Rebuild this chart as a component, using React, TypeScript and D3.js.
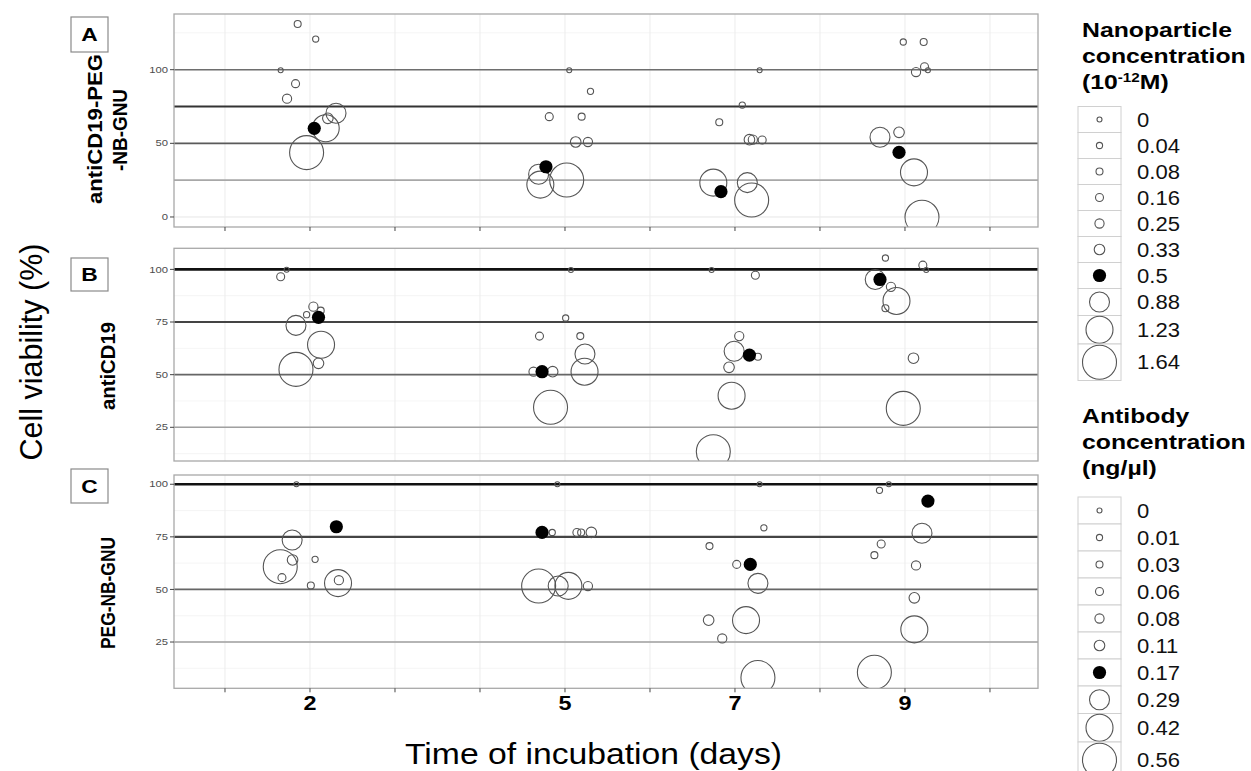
import { useEffect, useRef } from "react";
import * as d3 from "d3";

const W = 1251;
const H = 771;

// ── Data ─────────────────────────────────────────────────────────────────────
const nanoLevels = ["0", "0.04", "0.08", "0.16", "0.25", "0.33", "0.5", "0.88", "1.23", "1.64"];
const antibodyLevels = ["0", "0.01", "0.03", "0.06", "0.08", "0.11", "0.17", "0.29", "0.42", "0.56"];
const FILLED = 6; // the level drawn as a solid dot

const dayTicks = [1, 2, 3, 4, 5, 6, 7, 8, 9, 10];
const dayLabels = [2, 5, 7, 9];
const refValues = [100, 75, 50, 25];

// [day (jittered), cell viability %, concentration level index]
const pointsA: [number, number, number][] = [
  [1.855, 131, 2], [2.067, 120.8, 1], [1.655, 99.6, 0], [1.83, 90.5, 3], [1.73, 80.3, 4],
  [2.21, 67, 5], [2.306, 70.4, 7], [2.185, 60.2, 8], [1.96, 43.7, 9], [2.05, 60.2, 6],
  [5.05, 99.6, 0], [5.3, 85.3, 1], [5.196, 68.1, 2], [4.815, 68.1, 3], [5.27, 50.9, 4],
  [5.126, 50.9, 5], [4.69, 29, 7], [4.71, 22, 8], [5.02, 25.1, 9], [4.776, 34.1, 6],
  [7.29, 99.6, 0], [7.086, 76, 1], [6.815, 64.3, 2], [7.32, 52.3, 3], [7.21, 52.5, 4],
  [7.17, 52.5, 5], [7.145, 23.3, 7], [6.745, 23.3, 8], [7.196, 11.5, 9], [6.835, 17.2, 6],
  [9.27, 99.6, 0], [8.98, 118.8, 1], [9.22, 118.8, 2], [9.23, 102, 3], [9.13, 98.4, 4],
  [8.93, 57.5, 5], [8.706, 54.1, 7], [9.106, 30.3, 8], [9.2, -0.2, 9], [8.93, 43.9, 6],
];

const pointsB: [number, number, number][] = [
  [1.725, 99.8, 0], [1.96, 78.5, 1], [2.126, 80.4, 2], [1.655, 96.5, 3], [2.04, 82.3, 4],
  [2.1, 55.4, 5], [1.835, 73.4, 7], [2.13, 64.2, 8], [1.835, 52.5, 9], [2.1, 77.2, 6],
  [5.07, 99.7, 0], [5.008, 76.9, 1], [5.18, 68.3, 2], [4.7, 68.3, 3], [4.63, 51.4, 4],
  [4.855, 51.4, 5], [5.235, 59.8, 7], [5.23, 51.4, 8], [4.83, 34.5, 9], [4.73, 51.4, 6],
  [6.725, 99.7, 0], [7.27, 58.5, 2], [7.24, 97.2, 3], [7.05, 68.3, 4], [6.93, 53.5, 5],
  [6.99, 61.1, 7], [6.96, 40.0, 8], [6.745, 13.4, 9], [7.17, 59.3, 6],
  [9.25, 99.7, 0], [8.77, 105.4, 1], [8.77, 81.5, 2], [9.21, 102, 3], [8.835, 91.7, 4],
  [9.1, 57.8, 5], [8.65, 95.2, 7], [8.9, 85.0, 8], [8.98, 34.0, 9], [8.706, 95.2, 6],
];

const pointsC: [number, number, number][] = [
  [1.84, 100, 0], [2.06, 64.3, 1], [2.01, 51.9, 2], [1.67, 55.6, 3], [2.34, 54.4, 4],
  [1.795, 64.0, 5], [1.79, 73.5, 7], [2.33, 53.0, 8], [1.65, 60.8, 9], [2.31, 79.8, 6],
  [4.91, 100, 0], [4.85, 77.1, 1], [5.19, 77.1, 2], [5.14, 77.1, 3], [5.27, 51.6, 4],
  [5.31, 77.1, 5], [4.92, 51.6, 7], [5.04, 51.7, 8], [4.69, 51.6, 9], [4.73, 77.1, 6],
  [7.29, 100, 0], [7.34, 79.3, 1], [6.7, 70.6, 2], [7.02, 61.9, 3], [6.85, 26.7, 4],
  [6.69, 35.4, 5], [7.27, 52.9, 7], [7.13, 35.4, 8], [7.27, 8.1, 9], [7.18, 61.9, 6],
  [8.81, 100, 0], [8.7, 97.1, 1], [8.64, 66.3, 2], [8.72, 71.6, 3], [9.13, 61.4, 4],
  [9.11, 46.0, 5], [9.2, 76.7, 7], [9.11, 31.0, 8], [8.64, 10.6, 9], [9.27, 92.0, 6],
];

// ── Styling ──────────────────────────────────────────────────────────────────
const RADII = [2.5, 3.1, 3.5, 4, 4.6, 5.3, 6.6, 10, 13.5, 17];
const PX_L = 174;
const PX_R = 1038;

const refStyleA: [string, number][] = [["#6e6e6e", 1.4], ["#333333", 2.2], ["#5a5a5a", 1.6], ["#a8a8a8", 1.6]];
const refStyleBC: [string, number][] = [["#111111", 2.6], ["#444444", 2.1], ["#666666", 1.7], ["#a0a0a0", 1.5]];

const FONT = "'Liberation Sans', Arial, Helvetica, sans-serif";

const panels = [
  { id: "A", pts: pointsA, top: 14, bottom: 227, domain: [-6.8, 137.8], ticks: [0, 50, 100], minor: [25, 75, 125],
    refs: refStyleA, xTicks: true, box: [17, 35], labels: [["antiCD19-PEG", 102, 129, 150], ["-NB-GNU", 127, 130, 82]] },
  { id: "B", pts: pointsB, top: 248.3, bottom: 461, domain: [9, 110], ticks: [25, 50, 75, 100], minor: [12.5, 37.5, 62.5, 87.5],
    refs: refStyleBC, xTicks: false, box: [258, 33], labels: [["antiCD19", 115, 366, 88]] },
  { id: "C", pts: pointsC, top: 475, bottom: 688.3, domain: [3, 104.4], ticks: [25, 50, 75, 100], minor: [12.5, 37.5, 62.5, 87.5],
    refs: refStyleBC, xTicks: true, box: [469, 34], labels: [["PEG-NB-GNU", 115, 593, 112]] },
];

const legends = [
  { title: ["Nanoparticle", "concentration", null], levels: nanoLevels, titleY: 36.5, keyTop: 106.5, rowH: [26, 26, 26, 26, 26, 26, 26, 27, 28.5, 36.5] },
  { title: ["Antibody", "concentration", "(ng/µl)"], levels: antibodyLevels, titleY: 423, keyTop: 497, rowH: [27, 27, 27, 27, 27, 27, 27, 27.5, 28.5, 36.5] },
];

function stretch(sel: any, k: number) {
  sel.each(function (this: SVGTextElement) {
    const len = this.getComputedTextLength();
    d3.select(this).attr("textLength", len * k).attr("lengthAdjust", "spacingAndGlyphs");
  });
}

export default function App() {
  const ref = useRef<SVGSVGElement>(null);

  useEffect(() => {
    const svg = d3.select(ref.current);
    svg.selectAll("*").remove();

    const x = d3.scaleLinear().domain([0.4, 10.565]).range([PX_L, PX_R]);
    const r = d3.scaleOrdinal<number, number>().domain(d3.range(10)).range(RADII);

    panels.forEach((p, pi) => {
      const y = d3.scaleLinear().domain(p.domain).range([p.bottom, p.top]);
      const g = svg.append("g");

      g.append("rect").attr("x", PX_L).attr("y", p.top).attr("width", PX_R - PX_L).attr("height", p.bottom - p.top)
        .attr("fill", "#fff");

      // grid
      g.selectAll("line.minor").data(p.minor.filter(v => y(v) > p.top && y(v) < p.bottom)).join("line")
        .attr("x1", PX_L).attr("x2", PX_R).attr("y1", d => y(d)).attr("y2", d => y(d))
        .attr("stroke", "#f2f2f2").attr("stroke-width", 0.8);
      g.selectAll("line.major").data(p.ticks).join("line")
        .attr("x1", PX_L).attr("x2", PX_R).attr("y1", d => y(d)).attr("y2", d => y(d))
        .attr("stroke", "#e6e6e6").attr("stroke-width", 1);
      g.selectAll("line.vgrid").data(dayTicks).join("line")
        .attr("x1", d => x(d)).attr("x2", d => x(d)).attr("y1", p.top).attr("y2", p.bottom)
        .attr("stroke", "#ececec").attr("stroke-width", 1);

      // reference lines
      refValues.forEach((v, i) => {
        g.append("line").attr("x1", PX_L).attr("x2", PX_R).attr("y1", y(v)).attr("y2", y(v))
          .attr("stroke", p.refs[i][0]).attr("stroke-width", p.refs[i][1]);
      });

      // points
      const clipId = `clip-${pi}`;
      svg.append("defs").append("clipPath").attr("id", clipId)
        .append("rect").attr("x", PX_L).attr("y", p.top).attr("width", PX_R - PX_L).attr("height", p.bottom - p.top);
      const gp = g.append("g").attr("clip-path", `url(#${clipId})`);
      const sorted = [...p.pts].sort((a, b) => (a[2] === FILLED ? 1 : 0) - (b[2] === FILLED ? 1 : 0));
      gp.selectAll("circle").data(sorted).join("circle")
        .attr("cx", d => x(d[0])).attr("cy", d => y(d[1])).attr("r", d => r(d[2]))
        .attr("fill", d => (d[2] === FILLED ? "#000" : "none"))
        .attr("stroke", d => (d[2] === FILLED ? "none" : "#555"))
        .attr("stroke-width", 1.1);

      // border
      g.append("rect").attr("x", PX_L).attr("y", p.top).attr("width", PX_R - PX_L).attr("height", p.bottom - p.top)
        .attr("fill", "none").attr("stroke", "#a8a8a8").attr("stroke-width", 1.3);

      // y axis
      const ay = g.append("g");
      ay.selectAll("line").data(p.ticks).join("line")
        .attr("x1", PX_L - 4).attr("x2", PX_L).attr("y1", d => y(d)).attr("y2", d => y(d))
        .attr("stroke", "#444").attr("stroke-width", 1);
      ay.selectAll("text").data(p.ticks).join("text")
        .attr("x", PX_L - 6).attr("y", d => y(d)).attr("dy", "0.35em")
        .attr("text-anchor", "end").attr("font-family", FONT).attr("font-size", 9).attr("fill", "#4d4d4d")
        .text(d => d)
        .call(stretch, 1.25);

      // x ticks
      if (p.xTicks) {
        g.selectAll("line.xt").data(dayTicks).join("line")
          .attr("x1", d => x(d)).attr("x2", d => x(d)).attr("y1", p.bottom).attr("y2", p.bottom + 4)
          .attr("stroke", "#444").attr("stroke-width", 1);
      }

      // panel tag box
      g.append("rect").attr("x", 71).attr("y", p.box[0]).attr("width", 37).attr("height", p.box[1])
        .attr("fill", "#fff").attr("stroke", "#8a8a8a").attr("stroke-width", 1.2);
      g.append("text").attr("x", 89.5).attr("y", p.box[0] + p.box[1] / 2).attr("dy", "0.36em")
        .attr("text-anchor", "middle").attr("font-family", FONT).attr("font-weight", 700).attr("font-size", 19)
        .text(p.id)
        .call(stretch, 1.2);

      // rotated group label
      p.labels.forEach(([txt, bx, cy, len]) => {
        g.append("text").attr("transform", `translate(${bx},${cy}) rotate(-90)`)
          .attr("text-anchor", "middle").attr("font-family", FONT).attr("font-weight", 700).attr("font-size", 21)
          .attr("textLength", len as number).attr("lengthAdjust", "spacingAndGlyphs")
          .text(txt as string);
      });
    });

    // x tick labels
    const yC = panels[2].bottom;
    svg.append("g").selectAll("text").data(dayLabels).join("text")
      .attr("x", d => x(d)).attr("y", yC + 22)
      .attr("text-anchor", "middle").attr("font-family", FONT).attr("font-weight", 700).attr("font-size", 19.5)
      .text(d => d)
      .call(stretch, 1.2);

    // axis titles
    svg.append("text").attr("x", 593.5).attr("y", 764)
      .attr("text-anchor", "middle").attr("font-family", FONT).attr("font-size", 30)
      .attr("textLength", 377).attr("lengthAdjust", "spacingAndGlyphs")
      .text("Time of incubation (days)");
    svg.append("text").attr("transform", "translate(42,352) rotate(-90)")
      .attr("text-anchor", "middle").attr("font-family", FONT).attr("font-size", 31)
      .attr("textLength", 217).attr("lengthAdjust", "spacingAndGlyphs")
      .text("Cell viability (%)");

    // legends
    legends.forEach((lg) => {
      const gl = svg.append("g");
      lg.title.forEach((t, i) => {
        const tx = gl.append("text").attr("x", 1082).attr("y", lg.titleY + i * 26)
          .attr("font-family", FONT).attr("font-weight", 700).attr("font-size", 19.5);
        if (t === null) {
          tx.append("tspan").text("(10");
          tx.append("tspan").attr("font-size", 12).attr("dy", -7).text("-12");
          tx.append("tspan").attr("dy", 7).text("M)");
        } else {
          tx.text(t);
        }
        tx.call(stretch, 1.27);
      });
      let yy = lg.keyTop;
      lg.levels.forEach((lab, i) => {
        const h = lg.rowH[i];
        gl.append("rect").attr("x", 1078).attr("y", yy).attr("width", 43).attr("height", h)
          .attr("fill", "#fff").attr("stroke", "#d0d0d0").attr("stroke-width", 1);
        gl.append("circle").attr("cx", 1099.5).attr("cy", yy + h / 2).attr("r", r(i))
          .attr("fill", i === FILLED ? "#000" : "none")
          .attr("stroke", i === FILLED ? "none" : "#555").attr("stroke-width", 1.1);
        gl.append("text").attr("x", 1137).attr("y", yy + h / 2).attr("dy", "0.36em")
          .attr("font-family", FONT).attr("font-size", 19.5).attr("fill", "#111")
          .text(lab)
          .call(stretch, 1.13);
        yy += h;
      });
    });
  }, []);

  return (
    <svg ref={ref} width={W} height={H} viewBox={`0 0 ${W} ${H}`}
      style={{ position: "absolute", left: 0, top: 0, background: "#fff", display: "block" }} />
  );
}
